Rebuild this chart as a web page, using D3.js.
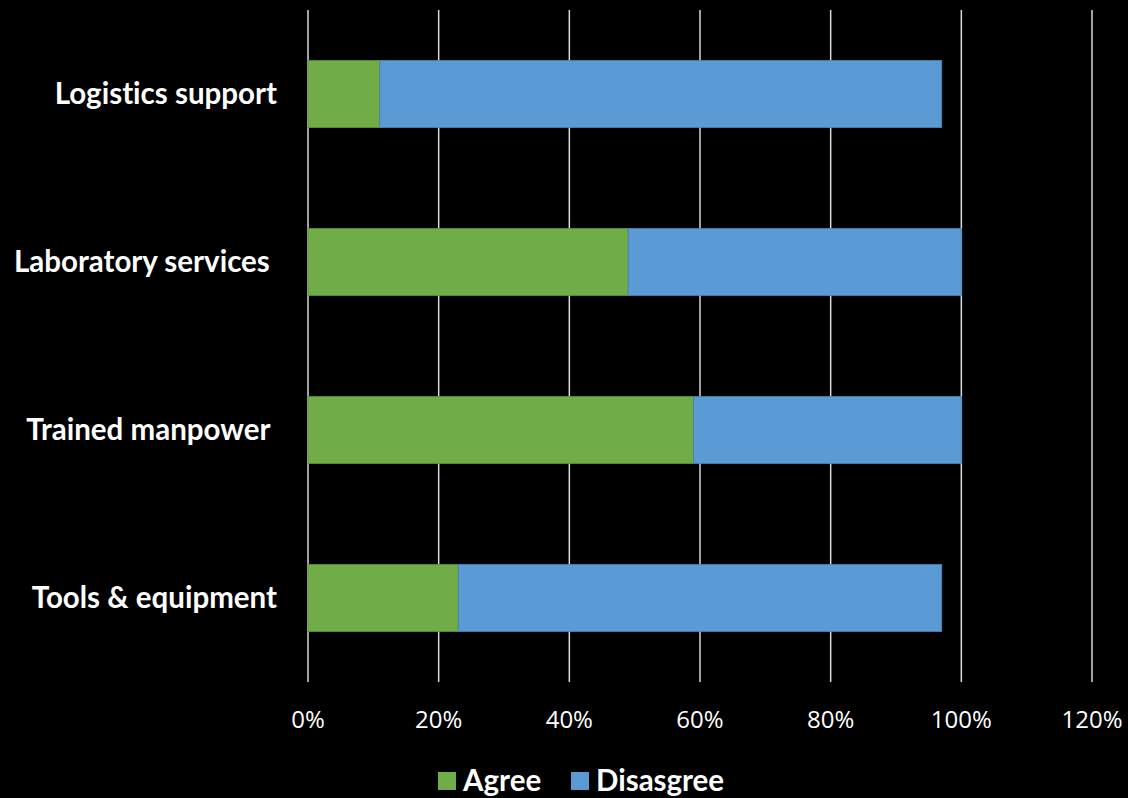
<!DOCTYPE html>
<html>
<head>
<meta charset="utf-8">
<script src="https://cdn.jsdelivr.net/npm/d3@7"></script>
<style>
  html, body { margin: 0; padding: 0; background: #000; }
  svg { display: block; }
  text { white-space: pre; font-variant-ligatures: none; }
</style>
</head>
<body>
<svg id="chart" width="1128" height="798"></svg>
<script>
// Survey results: share of respondents per resource area
const categories = ["Logistics support", "Laboratory services ", "Trained manpower ", "Tools & equipment"];
const agree      = [0.11, 0.49, 0.59, 0.23];
const disagree   = [0.86, 0.51, 0.41, 0.74];
const seriesNames  = ["Agree", "Disasgree"];
const seriesColors = ["#70AD47", "#5B9BD5"];
const tickValues = [0, 0.2, 0.4, 0.6, 0.8, 1.0, 1.2];

const svg = d3.select("#chart");
const plot = { left: 308, right: 1092, top: 10, bottom: 682 };

const x = d3.scaleLinear().domain([0, 1.2]).range([plot.left, plot.right]);
const y = d3.scaleBand().domain(categories)
  .range([plot.top, plot.bottom])
  .paddingInner(0.6).paddingOuter(0.3);

const rows = categories.map((c, i) => ({ category: c, Agree: agree[i], Disasgree: disagree[i] }));
const stacked = d3.stack().keys(seriesNames)(rows);

// Vertical gridlines
svg.append("g").selectAll("line").data(tickValues).join("line")
  .attr("x1", d => x(d)).attr("x2", d => x(d))
  .attr("y1", plot.top).attr("y2", plot.bottom)
  .attr("stroke", "#d9d9d9").attr("stroke-width", 1.5);

// Stacked bars
svg.append("g").selectAll("g").data(stacked).join("g")
  .attr("fill", (d, i) => seriesColors[i])
  .attr("stroke", (d, i) => d3.color(seriesColors[i]).darker(0.5))
  .attr("stroke-width", 0.8)
  .selectAll("rect").data(d => d).join("rect")
  .attr("x", d => x(d[0]))
  .attr("width", d => x(d[1]) - x(d[0]))
  .attr("y", d => y(d.data.category))
  .attr("height", y.bandwidth());

// X axis tick labels
svg.append("g").selectAll("text").data(tickValues).join("text")
  .attr("x", d => x(d)).attr("y", 728)
  .attr("text-anchor", "middle")
  .attr("fill", "#fff")
  .attr("font-family", "'Open Sans', sans-serif")
  .attr("font-size", 24)
  .text(d3.format(".0%"));

// Category labels
svg.append("g").selectAll("text").data(categories).join("text")
  .attr("x", 277)
  .attr("y", d => y(d) + y.bandwidth() / 2)
  .attr("dy", "0.35em")
  .attr("text-anchor", "end")
  .attr("fill", "#fff")
  .attr("font-family", "Lato, sans-serif")
  .attr("font-weight", "bold")
  .attr("font-size", 29.5)
  .text(d => d);

// Legend
const legend = svg.append("g");
const legendX = [438, 571];
seriesNames.forEach((name, i) => {
  legend.append("rect")
    .attr("x", legendX[i]).attr("y", 772)
    .attr("width", 18).attr("height", 18)
    .attr("fill", seriesColors[i]);
  legend.append("text")
    .attr("x", legendX[i] + 25).attr("y", 791)
    .attr("fill", "#fff")
    .attr("font-family", "Lato, sans-serif")
    .attr("font-weight", "bold")
    .attr("font-size", 29.5)
    .text(name);
});
</script>
</body>
</html>
